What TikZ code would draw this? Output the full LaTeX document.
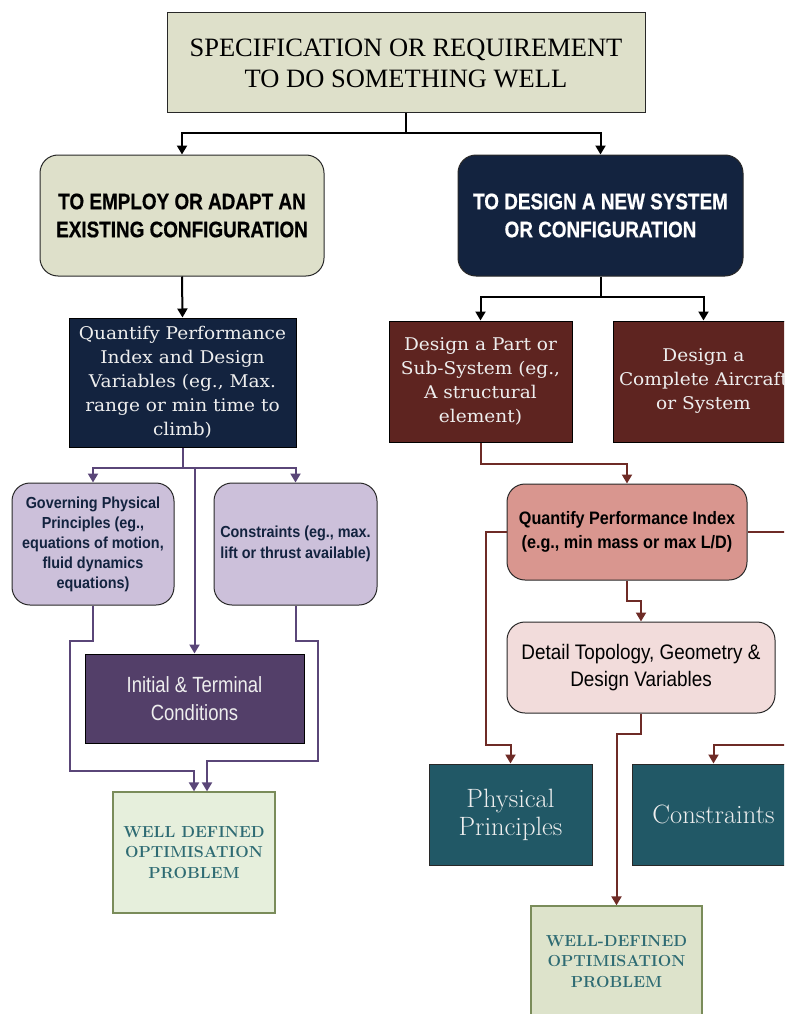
\documentclass[tikz,border=0pt]{standalone}
\usepackage{fontspec}
\usetikzlibrary{arrows.meta,calc}
\newfontfamily\timesf{Liberation Serif}
\newfontfamily\bookf[FakeStretch=1.06]{DejaVu Serif}
\newfontfamily\condf[FakeStretch=0.84,FakeBold=0.6]{Liberation Sans}
\newfontfamily\narrowf[FakeStretch=0.90]{Liberation Sans}
\newfontfamily\slimf[FakeStretch=0.84]{Liberation Sans}

\definecolor{khaki}{RGB}{222,224,202}
\definecolor{navy}{RGB}{19,35,63}
\definecolor{maroon}{RGB}{94,36,32}
\definecolor{lavender}{RGB}{204,192,218}
\definecolor{plum}{RGB}{83,63,105}
\definecolor{salmon}{RGB}{217,150,143}
\definecolor{blush}{RGB}{242,220,219}
\definecolor{petrol}{RGB}{33,88,102}
\definecolor{mint}{RGB}{230,239,220}
\definecolor{sage}{RGB}{221,227,203}
\definecolor{olive}{RGB}{122,140,90}
\definecolor{tealtext}{RGB}{46,107,115}
\definecolor{purpleline}{RGB}{90,70,120}
\definecolor{maroonline}{RGB}{110,43,38}
\definecolor{boxedge}{RGB}{40,40,40}
\definecolor{softwhite}{RGB}{238,238,238}

\tikzset{
  box/.style={rectangle, draw=boxedge, line width=1pt, align=center, inner sep=2pt},
  rbox/.style={box, rounded corners=18pt},
  tip/.style={-{Triangle[width=10pt,length=9pt]}},
  blk/.style={draw=black, line width=2pt, tip},
  blkline/.style={draw=black, line width=2pt},
  pur/.style={draw=purpleline, line width=2pt, tip},
  purline/.style={draw=purpleline, line width=2pt},
  mar/.style={draw=maroonline, line width=2pt, tip},
  marline/.style={draw=maroonline, line width=2pt},
  goal/.style={box, draw=olive, line width=1.3pt, text=tealtext,
    font=\bfseries\fontsize{16}{20.5}\selectfont},
}

\begin{document}
\begin{tikzpicture}[x=1pt,y=-1pt]
\useasboundingbox (0,0) rectangle (784,1014);
\clip (0,0) rectangle (784,1014);

% top requirement
\node[box, fill=khaki, minimum width=478, minimum height=100,
  font=\timesf\fontsize{26.5}{31}\selectfont] (top) at (406,63)
  {SPECIFICATION OR REQUIREMENT\\TO DO SOMETHING WELL};

% two branches
\node[rbox, fill=khaki, minimum width=284, minimum height=121,
  font=\condf\bfseries\fontsize{22.5}{28}\selectfont] (emp) at (182,215.5)
  {TO EMPLOY OR ADAPT AN\\EXISTING CONFIGURATION};
\node[rbox, fill=navy, text=white, minimum width=285, minimum height=121,
  font=\condf\bfseries\fontsize{22.5}{28}\selectfont] (des) at (600.5,215.5)
  {TO DESIGN A NEW SYSTEM\\OR CONFIGURATION};

% left branch
\node[box, draw=black, fill=navy, text=softwhite, minimum width=227, minimum height=129,
  font=\bookf\fontsize{17.5}{24}\selectfont] (qpl) at (182.5,382.5)
  {Quantify Performance\\Index and Design\\Variables (eg., Max.\\range or min time to\\climb)};
\node[rbox, fill=lavender, text=navy, minimum width=162, minimum height=122,
  font=\narrowf\bfseries\fontsize{16}{20}\selectfont] (gov) at (93,544)
  {Governing Physical\\Principles (eg.,\\equations of motion,\\fluid dynamics\\equations)};
\node[rbox, fill=lavender, text=navy, minimum width=163, minimum height=122,
  font=\narrowf\bfseries\fontsize{16}{21}\selectfont] (con) at (295.5,544)
  {Constraints (eg., max.\\lift or thrust available)};
\node[box, draw=black, fill=plum, text=softwhite, minimum width=219, minimum height=89,
  font=\slimf\fontsize{22}{28}\selectfont] (init) at (194.5,698.5)
  {Initial \& Terminal\\Conditions};
\node[goal, fill=mint, minimum width=162, minimum height=121] (wdl) at (194,852.5)
  {WELL DEFINED\\OPTIMISATION\\PROBLEM};

% right branch
\node[box, draw=black, fill=maroon, text=softwhite, minimum width=183, minimum height=121,
  font=\bookf\fontsize{17.5}{24}\selectfont] (part) at (480.5,381.5)
  {Design a Part or\\Sub-System (eg.,\\A structural\\element)};
\node[box, draw=black, fill=maroon, text=softwhite, minimum width=181, minimum height=121,
  font=\bookf\fontsize{17.5}{24}\selectfont] (comp) at (703.5,381.5)
  {Design a\\Complete Aircraft\\or System};
\node[rbox, fill=salmon, text=black, minimum width=240, minimum height=96,
  font=\narrowf\bfseries\fontsize{18}{24}\selectfont] (qpi) at (627,532)
  {Quantify Performance Index\\(e.g., min mass or max L/D)};
\node[rbox, fill=blush, text=black, minimum width=268, minimum height=91,
  font=\narrowf\fontsize{21}{27}\selectfont] (det) at (641,667.5)
  {Detail Topology, Geometry \&\\Design Variables};
\node[box, fill=petrol, text=softwhite, minimum width=163, minimum height=101,
  font=\fontsize{26.5}{28}\selectfont] (phy) at (510.5,814.5)
  {Physical\\Principles};
\node[box, fill=petrol, text=softwhite, minimum width=163, minimum height=101,
  font=\fontsize{26.5}{28}\selectfont] (cst) at (713.5,814.5)
  {Constraints};
\node[goal, fill=sage, minimum width=171, minimum height=111] (wdr) at (616.5,961.5)
  {WELL-DEFINED\\OPTIMISATION\\PROBLEM};

% black connectors
\draw[blkline] (top.south) -- ++(0,20) coordinate (tj);
\draw[blk] (tj) -| (emp.north);
\draw[blk] (tj) -| (des.north);
\draw[blk] (emp.south) -- (qpl.north);
\draw[blkline] (des.south) -- ++(0,20) coordinate (dj);
\draw[blk] (dj) -| (part.north);
\draw[blk] (dj) -| (comp.north);

% purple connectors
\draw[purline] (qpl.south) -- ++(0,20) coordinate (qj);
\draw[pur] (qj) -| (gov.north);
\draw[pur] (qj) -| (con.north);
\draw[pur] (qj -| init.north) -- (init.north);
\draw[pur] (gov.south) -- ++(0,35) -- ++(-23,0) |- ($(wdl.north)+(0,-20)$) -- (wdl.north);
\draw[pur] (con.south) -- ++(0,35) -- ++(22,0) |- ($(wdl.north)+(13,-30)$) -- ($(wdl.north)+(13,0)$);

% maroon connectors
\draw[mar] (part.south) -- ++(0,21) -| (qpi.north);
\draw[mar] (qpi.west) -- ++(-21,0) |- ($(phy.north)+(0,-19)$) -- (phy.north);
\draw[marline] (qpi.east) -- ++(50,0);
\draw[mar] ($(cst.north)+(90,-19)$) -| (cst.north);
\draw[mar] (qpi.south) -- ++(0,20) -| (det.north);
\draw[mar] (det.south) -- ++(0,20) -| (wdr.north);
\end{tikzpicture}
\end{document}
